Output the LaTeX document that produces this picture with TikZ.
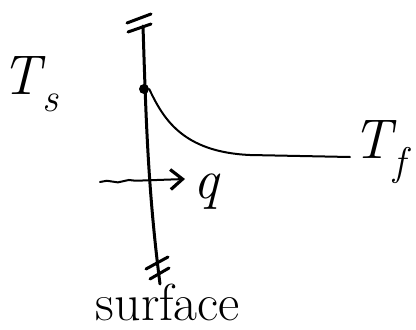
\documentclass[tikz,border=0pt]{standalone}
\usetikzlibrary{decorations.pathmorphing,arrows.meta}
\newcommand{\sublbl}[2]{\textit{#1}\kern-0.05em\raisebox{-0.3em}{\fontsize{40}{40}\selectfont\textit{#2}}}
\begin{document}
\begin{tikzpicture}[x=1pt,y=-1pt,
  ink/.style={line width=3pt,line cap=round,black},
  thin ink/.style={line width=2pt,line cap=round,black},
  lbl/.style={inner sep=0pt,font=\fontsize{56}{60}\selectfont}]
\useasboundingbox (0,0) rectangle (416,330);
% surface line
\coordinate (top) at (143,26);
\coordinate (bot) at (160,284);
\draw[ink] (top) .. controls (146,120) and (148,190) .. (bot);
% break marks
\draw[ink] (127,23) -- (151,14);
\draw[ink] (128,32) -- (151,24);
\draw[ink] (146,269) -- (168,257);
\draw[ink] (150,279) -- (169,268);
% point on the surface
\node[circle,fill=black,inner sep=0pt,minimum size=10pt] (pt) at (144,89) {};
% temperature profile
\coordinate (far) at (350,157);
\draw[thin ink] (pt.east) .. controls (163,118) and (182,152) .. (250,155) -- (far);
% heat flux arrow
\coordinate (qs) at (100,182);
\coordinate (qe) at (185,179);
\draw[thin ink,-{Straight Barb[length=12pt,width=20pt,line width=3.2pt]},
  decorate,decoration={snake,amplitude=1pt,segment length=22pt,post length=40pt}] (qs) -- (qe);
% labels
\node[lbl] (Ts) at (30,84) {\sublbl{T}{s}};
\node[lbl] (Tf) at (382,152) {\sublbl{T}{f}};
\node[lbl] (q) at (207,192) {\textit{q}};
\node[lbl,font=\fontsize{52}{56}\selectfont] (surf) at (168,302) {surface};
\end{tikzpicture}
\end{document}
